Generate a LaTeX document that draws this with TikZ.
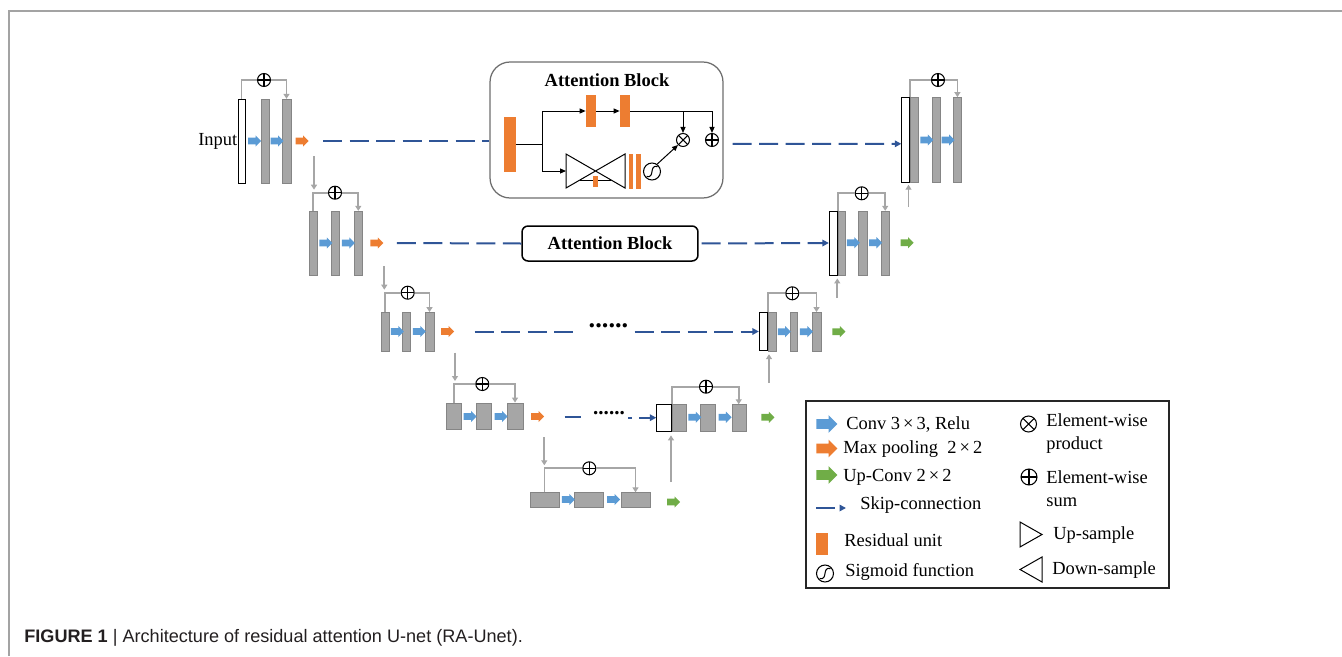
\documentclass[tikz,border=0pt]{standalone}
\usepackage{fontspec}
\setmainfont{Liberation Serif}
\newfontfamily\capfont{Liberation Sans}
\usepackage{tikz}
\usetikzlibrary{positioning}
\usetikzlibrary{shapes.arrows, arrows.meta}

\definecolor{barfill}{HTML}{A6A6A6}
\definecolor{baredge}{HTML}{858585}
\definecolor{convblue}{HTML}{5B9BD5}
\definecolor{poolorange}{HTML}{ED7D31}
\definecolor{upgreen}{HTML}{70AD47}
\definecolor{skipblue}{HTML}{2F5597}
\definecolor{linegray}{HTML}{A6A6A6}
\definecolor{framegray}{HTML}{A3A3A3}
\definecolor{boxgray}{HTML}{6E6E6E}
\definecolor{captext}{HTML}{231F20}

\tikzset{
  gbar/.style={rectangle,fill=barfill,draw=baredge,line width=0.2pt,inner sep=0pt,minimum width=0.17cm},
  wbar/.style={rectangle,fill=white,draw=black,line width=0.5pt,inner sep=0pt,minimum width=0.15cm},
  resunit/.style={rectangle,fill=poolorange,draw=none,inner sep=0pt},
  blockarr/.style={single arrow,draw=none,inner xsep=0pt,inner ysep=0.06cm,single arrow head extend=0.045cm,minimum height=0.26cm},
  conv/.style={blockarr,fill=convblue},
  pool/.style={blockarr,fill=poolorange},
  upconv/.style={blockarr,fill=upgreen},
  bigarr/.style={minimum height=0.42cm,inner ysep=0.09cm,single arrow head extend=0.08cm},
  osum/.style={circle,draw=black,fill=white,line width=0.6pt,inner sep=0pt,minimum size=0.26cm,
    path picture={\draw[line width=0.6pt] (path picture bounding box.north) -- (path picture bounding box.south)
      (path picture bounding box.west) -- (path picture bounding box.east);}},
  oprod/.style={circle,draw=black,fill=white,line width=0.6pt,inner sep=0pt,minimum size=0.26cm,
    path picture={\draw[line width=0.6pt] (path picture bounding box.north west) -- (path picture bounding box.south east)
      (path picture bounding box.south west) -- (path picture bounding box.north east);}},
  sigm/.style={circle,draw=black,fill=white,line width=0.6pt,inner sep=0pt,minimum size=0.34cm,
    path picture={\draw[line width=0.6pt] ([shift={(-0.11cm,-0.1cm)}]path picture bounding box.center)
      .. controls ([shift={(0.07cm,-0.14cm)}]path picture bounding box.center)
      and ([shift={(-0.07cm,0.14cm)}]path picture bounding box.center)
      .. ([shift={(0.11cm,0.1cm)}]path picture bounding box.center);}},
  gline/.style={draw=linegray,line width=0.035cm},
  garr/.style={gline,-{Triangle[length=0.1cm,width=0.12cm]}},
  skip/.style={draw=skipblue,line width=0.04cm,dash pattern=on 0.38cm off 0.15cm},
  skiparr/.style={skip,-{Triangle[length=0.13cm,width=0.13cm]}},
  kline/.style={draw=black,line width=0.02cm},
  karr/.style={kline,-{Triangle[length=0.12cm,width=0.1cm]}},
  attbox/.style={rectangle,rounded corners=0.4cm,draw=boxgray,line width=0.025cm,fill=white},
  lbl/.style={font=\fontsize{10.5}{13}\selectfont,inner sep=0pt},
  ttl/.style={font=\fontsize{10.5}{13}\selectfont\bfseries,inner sep=0pt},
}

\begin{document}
\begin{tikzpicture}[x=0.02cm,y=-0.02cm]
\useasboundingbox (0,0) rectangle (1342,656);
\draw[draw=framegray,line width=0.03cm] (9,656) -- (9,11) -- (1342,11);

% encoder, level 1
\node[wbar,minimum height=1.68cm,minimum width=0.14cm] (e1w) at (241.5,141) {};
\node[gbar,minimum height=1.68cm] (e1a) at (265,141) {};
\node[gbar,minimum height=1.68cm] (e1b) at (286.5,141) {};
\node[lbl,anchor=east] (inp) at (e1w.west) {Input};
\node[conv] (c1a) at (253,141) {};
\node[conv] (c1b) at (275.5,141) {};
\node[pool] (p1) at (300.5,141) {};
\node[osum] (s1) at (264,80) {};
\draw[garr] (e1w.north) |- (s1) -| (e1b.north);
\coordinate (dn1) at (314,156);

% encoder, level 2
\node[gbar,minimum height=1.28cm,minimum width=0.16cm] (e2a) at (313.3,243) {};
\node[gbar,minimum height=1.28cm,minimum width=0.16cm] (e2b) at (335,243) {};
\node[gbar,minimum height=1.28cm,minimum width=0.16cm] (e2c) at (358.3,243) {};
\node[conv] (c2a) at (324.2,243) {};
\node[conv] (c2b) at (346.7,243) {};
\node[pool] (p2) at (375.3,243) {};
\node[osum] (s2) at (335,192.7) {};
\draw[garr] (e2a.north) |- (s2) -| (e2c.north);
\draw[garr,shorten >=0.06cm] (dn1) -- (dn1 |- s2);
\coordinate (dn2) at (384.3,266);

% encoder, level 3
\node[gbar,minimum height=0.77cm,minimum width=0.16cm] (e3a) at (384.8,331.5) {};
\node[gbar,minimum height=0.77cm,minimum width=0.16cm] (e3b) at (406.5,331.5) {};
\node[gbar,minimum height=0.77cm,minimum width=0.17cm] (e3c) at (429.5,331.5) {};
\node[conv] (c3a) at (395.7,331.5) {};
\node[conv] (c3b) at (417.8,331.5) {};
\node[pool] (p3) at (446,331.5) {};
\node[osum] (s3) at (407.7,292.7) {};
\draw[garr] (e3a.north) |- (s3) -| (e3c.north);
\draw[garr,shorten >=0.06cm] (dn2) -- (dn2 |- s3);
\coordinate (dn3) at (455,352.7);

% encoder, level 4
\node[gbar,minimum height=0.53cm,minimum width=0.29cm] (e4a) at (453.8,416) {};
\node[gbar,minimum height=0.53cm,minimum width=0.31cm] (e4b) at (483.8,416) {};
\node[gbar,minimum height=0.53cm,minimum width=0.31cm] (e4c) at (515,416) {};
\node[conv] (c4a) at (468.5,416.5) {};
\node[conv] (c4b) at (499.5,416.5) {};
\node[pool] (p4) at (536,416.5) {};
\node[osum] (s4) at (482.3,384) {};
\draw[garr] (e4a.north) |- (s4) -| (e4c.north);
\draw[garr,shorten >=0.06cm] (dn3) -- (dn3 |- s4);
\coordinate (dn4) at (544.3,437.3);

% bottom level
\node[gbar,minimum height=0.3cm,minimum width=0.59cm] (e5a) at (544.6,500) {};
\node[gbar,minimum height=0.3cm,minimum width=0.59cm] (e5b) at (588.7,500) {};
\node[gbar,minimum height=0.3cm,minimum width=0.58cm] (e5c) at (635.5,500) {};
\node[conv] (c5a) at (566.7,499.5) {};
\node[conv] (c5b) at (612,499.5) {};
\node[upconv] (g5) at (672,502) {};
\node[osum] (s5) at (589.3,468.3) {};
\draw[garr] (e5a.north) |- (s5) -| (e5c.north);
\draw[garr,shorten >=0.06cm] (dn4) -- (dn4 |- s5);
\coordinate (up4) at (671,482);

% decoder, level 4
\node[wbar,minimum height=0.53cm,minimum width=0.29cm] (d4w) at (664,417.7) {};
\node[gbar,minimum height=0.53cm,minimum width=0.29cm,anchor=west] (d4g) at (d4w.east) {};
\node[gbar,minimum height=0.53cm,minimum width=0.29cm] (d4a) at (707.8,417.7) {};
\node[gbar,minimum height=0.53cm,minimum width=0.28cm] (d4b) at (738.7,417.7) {};
\node[conv] (k4a) at (693.2,417.3) {};
\node[conv] (k4b) at (723.4,417.3) {};
\node[upconv] (g4) at (766.3,417.3) {};
\node[osum] (s4d) at (706,386.7) {};
\draw[garr] (d4w.north east) |- (s4d) -| (d4b.north);
\draw[garr,shorten >=0.08cm] (up4) -- (up4 |- d4w.south);
\coordinate (up3) at (769,383);

% decoder, level 3
\node[wbar,minimum height=0.77cm,minimum width=0.16cm] (d3w) at (763.3,331.5) {};
\node[gbar,minimum height=0.77cm,minimum width=0.16cm,anchor=west] (d3g) at (d3w.east) {};
\node[gbar,minimum height=0.77cm,minimum width=0.15cm] (d3a) at (793.7,331.5) {};
\node[gbar,minimum height=0.77cm,minimum width=0.17cm] (d3b) at (816.5,331.5) {};
\node[conv] (k3a) at (782.6,331.7) {};
\node[conv] (k3b) at (804.8,331.7) {};
\node[upconv] (g3) at (837.3,331.7) {};
\node[osum] (s3d) at (792.3,293.3) {};
\draw[garr] (d3w.north east) |- (s3d) -| (d3b.north);
\draw[garr,shorten >=0.06cm] (up3) -- (up3 |- d3w.south);
\coordinate (up2) at (837.3,298);

% decoder, level 2
\node[wbar,minimum height=1.28cm,minimum width=0.16cm] (d2w) at (833.3,243) {};
\node[gbar,minimum height=1.28cm,minimum width=0.15cm,anchor=west] (d2g) at (d2w.east) {};
\node[gbar,minimum height=1.28cm,minimum width=0.17cm] (d2a) at (862.5,243) {};
\node[gbar,minimum height=1.28cm,minimum width=0.17cm] (d2b) at (885.2,243) {};
\node[conv] (k2a) at (851.7,242.7) {};
\node[conv] (k2b) at (873.9,242.7) {};
\node[upconv] (g2) at (905.5,242.7) {};
\node[osum] (s2d) at (861.7,193.3) {};
\draw[garr] (d2w.north east) |- (s2d) -| (d2b.north);
\draw[garr,shorten >=0.06cm] (up2) -- (up2 |- d2w.south);
\coordinate (up1) at (908.5,207);

% decoder, level 1
\node[wbar,minimum height=1.7cm,minimum width=0.15cm] (d1w) at (905.5,139.8) {};
\node[gbar,minimum height=1.7cm,minimum width=0.17cm,anchor=west] (d1g) at (d1w.east) {};
\node[gbar,minimum height=1.7cm,minimum width=0.15cm] (d1a) at (936.4,139.8) {};
\node[gbar,minimum height=1.7cm,minimum width=0.17cm] (d1b) at (957.4,139.8) {};
\node[conv] (k1a) at (925.2,140) {};
\node[conv] (k1b) at (946.5,140) {};
\node[osum] (s1d) at (938,80) {};
\draw[garr] (d1w.north east) |- (s1d) -| (d1b.north);
\draw[garr,shorten >=0.04cm] (up1) -- (up1 |- d1w.south);

% attention block (top)
\node[attbox,minimum width=4.66cm,minimum height=2.72cm] (att) at (606.5,130) {};
\node[ttl] (atttl) at (607,80) {Attention Block};
\node[resunit,minimum width=0.23cm,minimum height=1.1cm] (ru0) at (510,144.5) {};
\node[resunit,minimum width=0.2cm,minimum height=0.64cm] (ru1) at (591,111) {};
\node[resunit,minimum width=0.2cm,minimum height=0.64cm] (ru2) at (625,111) {};
\coordinate (j0) at (542,144.5);
\draw[kline] (ru0.east) -- (j0);
\draw[karr] (j0) |- (ru1.west);
\draw[karr] (ru1.east) -- (ru2.west);
\node[oprod] (prod) at (683,140) {};
\node[osum] (sum) at (712,140) {};
\draw[karr] (ru2.east) -| (sum.north);
\draw[karr] (prod |- ru2.east) -- (prod.north);
\coordinate (bw) at (566,171);
\draw[karr] (j0) |- (bw);
\draw[kline] (566,154) -- (566,188) -- (625,154) -- (625,188) -- cycle;
\draw[kline] (580,180) -- (611,180);
\node[resunit,minimum width=0.1cm,minimum height=0.22cm] (ru3) at (595.5,181.5) {};
\node[resunit,minimum width=0.09cm,minimum height=0.7cm] (ru4) at (631,171) {};
\node[resunit,minimum width=0.09cm,minimum height=0.7cm] (ru5) at (638.5,171) {};
\node[sigm] (sg) at (652,171.5) {};
\draw[karr] (sg.55) -- (prod.225);

% attention block (level 2)
\node[attbox,rounded corners=0.12cm,draw=black,line width=0.03cm,minimum width=3.52cm,minimum height=0.7cm,ttl] (att2) at (610,243.5) {Attention Block};

% skip connections
\draw[skip,shorten <=0.28cm] (p1.east) -- (p1.east -| att.west);
\draw[skiparr,shorten <=0.18cm] ([yshift=-0.28cm]att.east) -- ([yshift=-0.08cm]d1w.west);
\draw[skip,shorten <=0.26cm] (p2.east) -- (att2.west);
\draw[skiparr,shorten <=0.06cm] (att2.east) -- (d2w.west);
\node[font=\fontsize{15}{15}\selectfont\bfseries,inner sep=0pt] (dots3) at (608.5,326) {......};
\draw[skip,shorten <=0.4cm,shorten >=0.2cm] (p3.east) -- (p3.east -| dots3.west);
\draw[skiparr,shorten <=0.12cm] (dots3.east |- d3w.west) -- (d3w.west);
\node[font=\fontsize{12}{12}\selectfont\bfseries,inner sep=0pt] (dots4) at (609,413) {......};
\draw[skip,shorten <=0.4cm,shorten >=0.24cm] (p4.east) -- (p4.east -| dots4.west);
\draw[skiparr,dash pattern=on 0.08cm off 0.14cm on 0.4cm off 0.16cm,shorten <=0.06cm] (dots4.east |- d4w.west) -- (d4w.west);

% legend
\node[draw=black!85,line width=0.03cm,minimum width=7.26cm,minimum height=3.74cm,inner sep=0pt] (legend) at (987.5,494.5) {};
\node[conv,bigarr] (lconv) at (824.5,424) {};
\node[lbl,anchor=west] (tconv) at (846,425) {Conv 3\,×\,3, Relu};
\node[pool,bigarr] (lpool) at (824.5,448.5) {};
\node[lbl,anchor=west] (tpool) at (843,449) {Max pooling\ \ 2\,×\,2};
\node[upconv,bigarr] (lup) at (824.5,475) {};
\node[lbl,anchor=west] (tup) at (843,477) {Up-Conv 2\,×\,2};
\coordinate (lskip) at (816,508);
\draw[skiparr] (lskip) -- ++(30,0);
\node[lbl,anchor=west] (tskip) at (860,505) {Skip-connection};
\node[resunit,minimum width=0.24cm,minimum height=0.44cm] (lres) at (822,544) {};
\node[lbl,anchor=west] (tres) at (844,540) {Residual unit};
\node[sigm] (lsig) at (825,573.5) {};
\node[lbl,anchor=west] (tsig) at (845,572) {Sigmoid function};
\node[oprod,minimum size=0.32cm] (lprod) at (1028.5,424) {};
\node[lbl,anchor=west,align=left] (tprod) at (1046,433.5) {Element-wise\\product};
\node[osum,minimum size=0.32cm] (lsum) at (1029,477) {};
\node[lbl,anchor=west,align=left] (tsum) at (1046,488.5) {Element-wise\\sum};
\draw[kline] (1020,522) -- (1042,534.5) -- (1020,547) -- cycle;
\node[lbl,anchor=west] (tupsam) at (1053,535) {Up-sample};
\draw[kline] (1042,557) -- (1020,569.5) -- (1042,582) -- cycle;
\node[lbl,anchor=west] (tdown) at (1052,570) {Down-sample};

% caption
\node[font=\capfont\fontsize{10.3}{12}\selectfont,text=captext,anchor=west,inner sep=0pt] (cap) at (24,638)
  {\textbf{FIGURE 1} | Architecture of residual attention U-net (RA-Unet).};
\end{tikzpicture}
\end{document}
